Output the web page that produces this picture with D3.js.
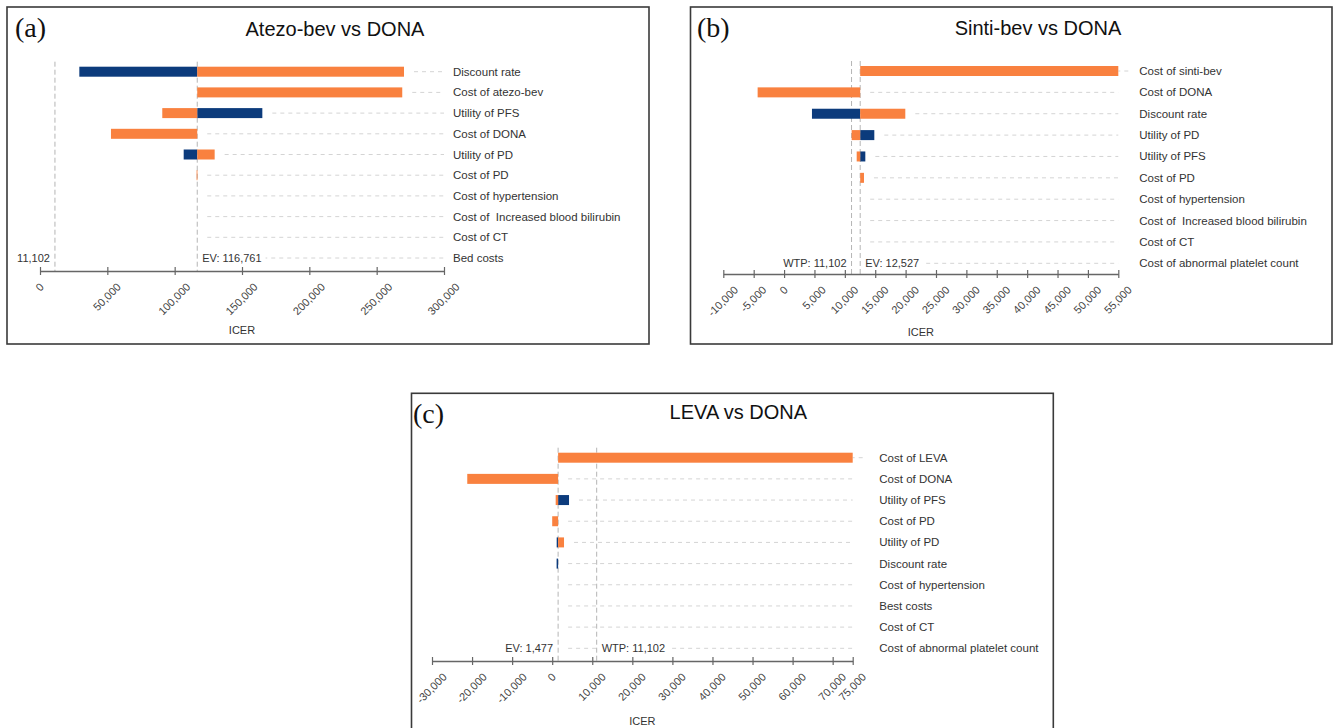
<!DOCTYPE html>
<html><head><meta charset="utf-8">
<script src="https://cdn.jsdelivr.net/npm/d3@7"></script>
<style>
body{margin:0;background:#fff}
text{font-family:"Liberation Sans",Arial,sans-serif}
</style>
</head><body>
<svg id="chart" width="1337" height="728"></svg>
<script>
// ---------------- DATA ----------------
const WTP = 11102;

// (a) Atezo-bev vs DONA
const catsA = ["Discount rate","Cost of atezo-bev","Utility of PFS","Cost of DONA","Utility of PD","Cost of PD","Cost of hypertension","Cost of  Increased blood bilirubin","Cost of CT","Bed costs"];
const evA = 116761;
const lowA  = [29200, 116761, 165100, 116761, 106700, 116761, 116761, 116761, 116761, 116761];   // blue
const highA = [270300, 269000, 90800, 52700, 129700, 116300, 116761, 116761, 116761, 116761];    // orange
const ticksA = [0, 50000, 100000, 150000, 200000, 250000, 300000];

// (b) Sinti-bev vs DONA
const catsB = ["Cost of sinti-bev","Cost of DONA","Discount rate","Utility of PD","Utility of PFS","Cost of PD","Cost of hypertension","Cost of  Increased blood bilirubin","Cost of CT","Cost of abnormal platelet count"];
const evB = 12527;
const lowB  = [12527, 12527, 4590, 14850, 13370, 12527, 12527, 12527, 12527, 12527];
const highB = [55000, -4350, 19950, 11120, 11950, 13150, 12527, 12527, 12527, 12527];
const ticksB = [-10000,-5000,0,5000,10000,15000,20000,25000,30000,35000,40000,45000,50000,55000];

// (c) LEVA vs DONA
const catsC = ["Cost of LEVA","Cost of DONA","Utility of PFS","Cost of PD","Utility of PD","Discount rate","Cost of hypertension","Best costs","Cost of CT","Cost of abnormal platelet count"];
const evC = 1477;
const lowC  = [1477, 1477, 4200, 1477, 1120, 1100, 1477, 1477, 1477, 1477];
const highC = [75000, -21200, 870, 0, 2950, 1477, 1477, 1477, 1477, 1477];
const ticksC = [-30000,-20000,-10000,0,10000,20000,30000,40000,50000,60000,70000,75000];

const titles = ["Atezo-bev vs DONA","Sinti-bev vs DONA","LEVA vs DONA"];
const letters = ["(a)","(b)","(c)"];

// ---------------- LAYOUT ----------------
const BLUE = "#0c3b7c", ORANGE = "#f9813f";
const fmt = d3.formatLocale({decimal:".", thousands:",", grouping:[3], currency:["",""], minus:"-"}).format(",");
const svg = d3.select("#chart");

const panels = [
  {box:[7,7,649,344], letterXY:[15,36.7], titleXY:[335,36], xr:[40,444], dom:[0,300000], axisY:271,
   rows:[71.7,258], labelX:453, icerY:330, cats:catsA, ev:evA, low:lowA, high:highA, ticks:ticksA,
   evLabel:"EV: 116,761", wtpLabel:"11,102", evSide:"right", wtpSide:"left"},
  {box:[690.5,7,1332,344], letterXY:[697,36.7], titleXY:[1038,35], xr:[723.3,1118.3], dom:[-10000,55000], axisY:274,
   rows:[71,263.3], labelX:1139.3, icerY:331.5, cats:catsB, ev:evB, low:lowB, high:highB, ticks:ticksB,
   evLabel:"EV: 12,527", wtpLabel:"WTP: 11,102", evSide:"right", wtpSide:"left"},
  {box:[411.5,393.3,1053.3,760], letterXY:[413,422.7], titleXY:[738.3,418.5], xr:[432,852.7], dom:[-30000,75000], axisY:661,
   rows:[457.7,648.3], labelX:879.3, icerY:721, cats:catsC, ev:evC, low:lowC, high:highC, ticks:ticksC,
   evLabel:"EV: 1,477", wtpLabel:"WTP: 11,102", evSide:"left", wtpSide:"right"}
];

panels.forEach((p, i) => {
  const g = svg.append("g");
  const [bx0, by0, bx1, by1] = p.box;
  g.append("rect").attr("x", bx0).attr("y", by0).attr("width", bx1 - bx0).attr("height", by1 - by0)
    .attr("fill", "none").attr("stroke", "#3a3a3a").attr("stroke-width", 1.6);

  g.append("text").attr("x", p.letterXY[0]).attr("y", p.letterXY[1]).text(letters[i])
    .style("font-family", "'Liberation Serif','Times New Roman',serif").style("font-size", "28px").attr("fill", "#111");
  g.append("text").attr("x", p.titleXY[0]).attr("y", p.titleXY[1]).attr("text-anchor", "middle")
    .style("font-size", "20px").attr("fill", "#111").text(titles[i]);

  const x = d3.scaleLinear().domain(p.dom).range(p.xr);
  const y = d3.scalePoint().domain(p.cats).range(p.rows);
  const barH = 10;
  const xEv = x(p.ev), xW = x(WTP);
  const rowIdx = d3.range(p.cats.length);

  // gridlines
  g.append("g").selectAll("line").data(rowIdx).join("line")
    .attr("x1", k => Math.max(xEv, x(p.low[k]), x(p.high[k])) + 10)
    .attr("x2", p.xr[1])
    .attr("y1", k => y(p.cats[k])).attr("y2", k => y(p.cats[k]))
    .attr("stroke", "#d4d4d4").attr("stroke-width", 1).attr("stroke-dasharray", "4,4");

  // vertical reference lines
  [xW, xEv].forEach(xv => {
    g.append("line").attr("x1", xv).attr("x2", xv).attr("y1", p.rows[0] - 10).attr("y2", p.axisY)
      .attr("stroke", "#b5b5b5").attr("stroke-width", 1).attr("stroke-dasharray", "5,3");
  });

  // bars
  const bars = g.append("g");
  bars.selectAll("rect.low").data(rowIdx.filter(k => p.low[k] !== p.ev)).join("rect")
    .attr("class", "low")
    .attr("x", k => Math.min(xEv, x(p.low[k]))).attr("width", k => Math.abs(x(p.low[k]) - xEv))
    .attr("y", k => y(p.cats[k]) - barH / 2).attr("height", barH).attr("fill", BLUE);
  bars.selectAll("rect.high").data(rowIdx.filter(k => p.high[k] !== p.ev)).join("rect")
    .attr("class", "high")
    .attr("x", k => Math.min(xEv, x(p.high[k]))).attr("width", k => Math.max(0.8, Math.abs(x(p.high[k]) - xEv)))
    .attr("y", k => y(p.cats[k]) - barH / 2).attr("height", barH).attr("fill", ORANGE);

  // category labels
  g.append("g").selectAll("text").data(p.cats).join("text")
    .attr("x", p.labelX).attr("y", d => y(d)).attr("dominant-baseline", "central")
    .style("font-size", "11.5px").style("white-space", "pre").attr("fill", "#333").text(d => d);

  // EV / WTP labels with white backing
  const lastY = p.rows[1];
  function annot(txt, xv, side) {
    const t = g.append("text").attr("y", lastY).attr("dominant-baseline", "central")
      .style("font-size", "11px").attr("fill", "#333").text(txt);
    if (side === "left") t.attr("x", xv - 5).attr("text-anchor", "end");
    else t.attr("x", xv + 5).attr("text-anchor", "start");
    const bb = t.node().getBBox();
    g.insert("rect", function () { return t.node(); })
      .attr("x", bb.x - 2).attr("y", bb.y).attr("width", bb.width + 6).attr("height", bb.height).attr("fill", "#fff");
  }
  annot(p.evLabel, xEv, p.evSide);
  annot(p.wtpLabel, xW, p.wtpSide);

  // axis
  const ax = g.append("g").attr("transform", `translate(0,${p.axisY})`)
    .call(d3.axisBottom(x).tickValues(p.ticks).tickSizeOuter(0).tickSizeInner(4).tickFormat(fmt));
  ax.select(".domain").attr("stroke", "#666").attr("stroke-width", 1.4);
  ax.selectAll(".tick line").attr("y1", -4).attr("y2", 4).attr("stroke", "#666").attr("stroke-width", 1.2);
  ax.selectAll(".tick text")
    .attr("y", null).attr("dy", null)
    .attr("text-anchor", "middle").attr("dominant-baseline", "central")
    .style("font-size", "11px").style("font-family", "'Liberation Sans',Arial,sans-serif").attr("fill", "#444")
    .each(function () {
      const L = this.getComputedTextLength();
      const cy = 11 + (L + 8) * 0.354;
      d3.select(this).attr("transform", `translate(-1,${cy}) rotate(-45)`);
    });

  g.append("text").attr("x", (p.xr[0] + p.xr[1]) / 2).attr("y", p.icerY).attr("text-anchor", "middle")
    .attr("dominant-baseline", "central").style("font-size", "11px").attr("fill", "#333").text("ICER");
});
</script>
</body></html>
